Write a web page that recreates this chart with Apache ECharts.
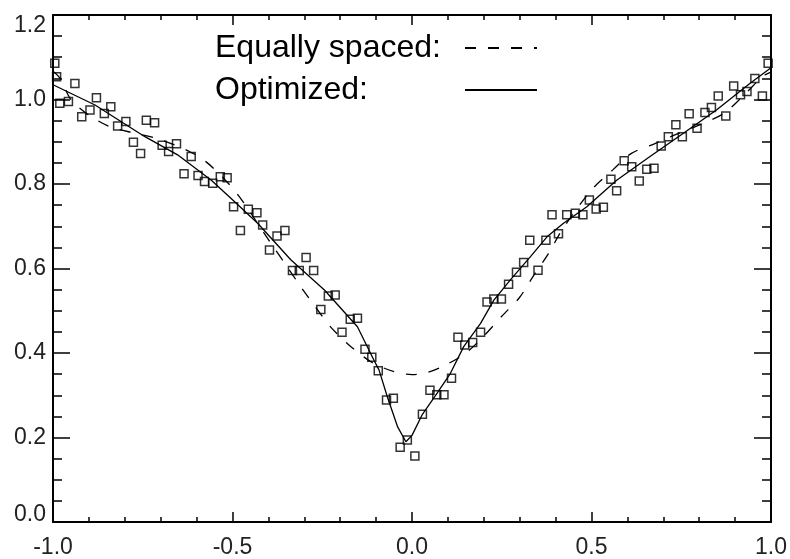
<!DOCTYPE html>
<html>
<head>
<meta charset="utf-8">
<script src="https://cdn.jsdelivr.net/npm/echarts@6/dist/echarts.min.js"></script>
<style>html,body{margin:0;padding:0;background:#fff}#c{width:790px;height:559px}</style>
</head>
<body>
<div id="c"></div>
<script>
// Scatter data (x, y)
const dataX = [-0.995,-0.99,-0.981,-0.957,-0.939,-0.920,-0.897,-0.879,-0.857,-0.839,-0.820,-0.797,-0.776,-0.756,-0.740,-0.717,-0.696,-0.678,-0.656,-0.635,-0.615,-0.596,-0.578,-0.555,-0.534,-0.515,-0.497,
 -0.478,-0.456,-0.432,-0.416,-0.397,-0.376,-0.354,-0.333,-0.314,-0.295,-0.274,-0.254,-0.233,-0.214,-0.195,-0.172,-0.152,-0.131,-0.112,-0.094,-0.071,-0.052,-0.033,-0.013,0.008,
 0.029,0.050,0.069,0.089,0.110,0.128,0.147,0.169,0.191,0.209,0.228,0.249,0.269,0.291,0.311,0.328,0.351,0.373,0.390,0.408,0.431,0.455,0.476,0.494,
 0.513,0.533,0.554,0.570,0.591,0.612,0.633,0.654,0.674,0.694,0.714,0.735,0.753,0.772,0.794,0.816,0.834,0.853,0.874,0.896,0.915,0.933,0.955,0.976,0.992];
const dataY = [1.086,1.054,0.991,0.995,1.038,0.959,0.975,1.004,0.967,0.983,0.937,0.948,0.899,0.872,0.951,0.945,0.892,0.877,0.895,0.824,0.865,0.820,0.806,0.802,0.817,0.815,0.746,
 0.690,0.740,0.732,0.703,0.644,0.677,0.690,0.595,0.595,0.626,0.595,0.503,0.535,0.537,0.449,0.480,0.482,0.409,0.390,0.358,0.289,0.293,0.177,0.194,0.156,
 0.255,0.312,0.301,0.301,0.340,0.437,0.419,0.425,0.449,0.521,0.528,0.528,0.563,0.591,0.614,0.667,0.596,0.667,0.727,0.682,0.727,0.731,0.727,0.762,
 0.741,0.745,0.811,0.784,0.855,0.841,0.807,0.835,0.837,0.890,0.912,0.940,0.912,0.966,0.932,0.969,0.981,1.008,0.961,1.032,1.011,1.019,1.050,1.008,1.086];

// Equally spaced fit (dashed)
const eqX = [-1.0,-0.98,-0.95,-0.9,-0.84,-0.77,-0.7,-0.62,-0.57,-0.51,-0.47,-0.39,-0.35,-0.31,-0.27,-0.225,-0.17,-0.11,-0.05,0.0,0.04,0.09,0.15,0.2,0.25,0.3,0.34,0.38,0.42,0.5,0.56,0.61,0.675,0.737,0.81,0.87,0.93,0.977,1.0];
const eqY = [1.067,1.05,1.0,0.963,0.935,0.92,0.905,0.877,0.85,0.80,0.757,0.656,0.607,0.557,0.51,0.46,0.415,0.377,0.356,0.349,0.353,0.37,0.40,0.44,0.487,0.532,0.585,0.635,0.694,0.786,0.834,0.872,0.895,0.918,0.943,0.968,1.015,1.055,1.065];

// Optimized fit (solid)
const optX = [-1.0,-0.883,-0.744,-0.653,-0.559,-0.494,-0.43,-0.337,-0.244,-0.152,-0.106,-0.092,-0.069,-0.04,-0.017,0.0,0.029,0.07,0.107,0.144,0.191,0.228,0.274,0.33,0.376,0.422,0.487,0.57,0.663,0.756,0.848,0.941,1.0];
const optY = [1.035,0.987,0.912,0.869,0.809,0.758,0.707,0.620,0.549,0.462,0.383,0.36,0.297,0.225,0.19,0.205,0.255,0.305,0.352,0.415,0.470,0.525,0.573,0.628,0.675,0.707,0.746,0.809,0.865,0.920,0.975,1.038,1.075];

const xTicks = [-1.0,-0.5,0.0,0.5,1.0];
const yTicks = [0.0,0.2,0.4,0.6,0.8,1.0,1.2];

const FONT = '"Liberation Sans", Arial, Helvetica, sans-serif';
const zip = (a,b) => a.map((v,i)=>[v,b[i]]);

const chart = echarts.init(document.getElementById('c'), null, {renderer:'canvas'});

const axisLine = {show:true, onZero:false, lineStyle:{color:'#000', width:2}};
const xCommon = {
  type:'value', min:xTicks[0], max:xTicks[xTicks.length-1], interval:0.5,
  axisLine, splitLine:{show:false},
  axisTick:{show:true, inside:true, length:10, lineStyle:{color:'#000', width:1.5}},
  minorTick:{show:true, splitNumber:5, length:5, lineStyle:{color:'#000', width:1.5}},
};
const yCommon = {
  type:'value', min:yTicks[0], max:yTicks[yTicks.length-1], interval:0.2,
  axisLine, splitLine:{show:false},
  axisTick:{show:true, inside:true, length:17, lineStyle:{color:'#000', width:1.5}},
  minorTick:{show:true, splitNumber:4, length:9, lineStyle:{color:'#000', width:1.5}},
};

chart.setOption({
  animation:false,
  backgroundColor:'#fff',
  color:['#000','#000','#000'],
  grid:{left:53, right:18, top:15, bottom:37, containLabel:false},
  legend:{
    orient:'vertical', left:210, top:27, align:'right', selectedMode:false,
    itemWidth:72, itemHeight:14, itemGap:10,
    itemStyle:{opacity:0},
    data:['Equally spaced:','Optimized:'],
    formatter: n => '{a|' + n + '}',
    textStyle:{rich:{a:{width:245, align:'left', fontSize:32, color:'#000', fontFamily:FONT}}}
  },
  xAxis:[
    Object.assign({}, xCommon, {position:'bottom',
      axisLabel:{show:true, margin:14, fontSize:23, color:'#222', fontFamily:FONT, formatter:v=>v.toFixed(1)}}),
    Object.assign({}, xCommon, {position:'top', axisLabel:{show:false}})
  ],
  yAxis:[
    Object.assign({}, yCommon, {position:'left',
      axisLabel:{show:true, margin:7, fontSize:23, color:'#222', fontFamily:FONT,
        formatter:v=>{
          const s = v.toFixed(1);
          if (Math.abs(v-1.2)<1e-6) return '{t|'+s+'}';
          if (Math.abs(v)<1e-6) return '{b|'+s+'}';
          return s;
        },
        rich:{t:{padding:[22,0,0,0], fontSize:23, color:'#222', fontFamily:FONT},
              b:{padding:[0,0,15,0], fontSize:23, color:'#222', fontFamily:FONT}}
      }}),
    Object.assign({}, yCommon, {position:'right', axisLabel:{show:false}})
  ],
  series:[
    {name:'Equally spaced:', type:'line', data:zip(eqX,eqY), symbol:'none', smooth:0.3,
     itemStyle:{color:'#000'},
     lineStyle:{color:'#000', width:1.3, type:[11,12]}, z:3},
    {name:'Optimized:', type:'line', data:zip(optX,optY), symbol:'none',
     itemStyle:{color:'#000'},
     lineStyle:{color:'#000', width:1.3, type:'solid'}, z:3},
    {name:'data', type:'scatter', data:zip(dataX,dataY), symbol:'rect', symbolSize:8,
     itemStyle:{color:'rgba(0,0,0,0)', borderColor:'#000', borderWidth:1.5}, z:4}
  ]
});
</script>
</body>
</html>
